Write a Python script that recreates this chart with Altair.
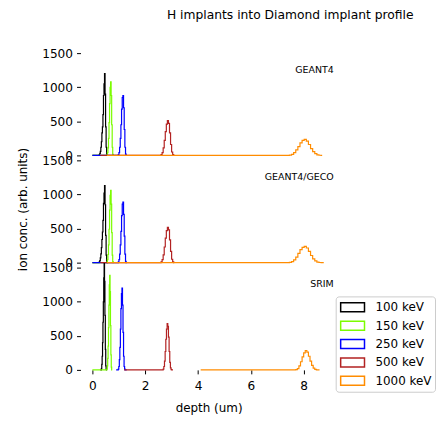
import altair as alt
import pandas as pd

energies = ["100 keV", "150 keV", "250 keV", "500 keV", "1000 keV"]
colors = ["#000000", "#7cfc00", "#0000ff", "#b22222", "#ff8c00"]
panels = ["GEANT4", "GEANT4/GECO", "SRIM"]
title_text = "H implants into Diamond implant profile"

# histogram data: first bin edge, bin width, counts, baseline extent
g4_start = [0.26, 0.55, 0.98, 2.60, 7.46]
g4_width = [0.02, 0.02, 0.025, 0.04, 0.08]
g4_100 = [10, 30, 60, 120, 200, 330, 420, 600, 880, 1050, 1200, 900, 420, 120, 15]
g4_150 = [10, 40, 110, 250, 480, 760, 1000, 1080, 880, 450, 120, 15]
g4_250 = [10, 40, 120, 250, 450, 680, 850, 880, 700, 380, 120, 20]
g4_500 = [10, 40, 110, 220, 350, 460, 510, 470, 330, 160, 50, 10]
g4_1000 = [5, 15, 40, 80, 130, 185, 220, 235, 210, 160, 100, 55, 25, 8, 2]
g4_base = [(0.0, 0.60), (0.0, 0.80), (0.0, 1.30), (0.3, 3.10), (0.55, 8.70)]

gc_start = [0.26, 0.55, 0.98, 2.60, 7.46]
gc_width = [0.02, 0.02, 0.025, 0.04, 0.08]
gc_100 = [10, 30, 70, 130, 220, 340, 450, 620, 870, 1020, 1130, 850, 400, 110, 15]
gc_150 = [10, 45, 120, 260, 490, 770, 990, 1060, 860, 440, 110, 15]
gc_250 = [10, 45, 125, 260, 460, 690, 860, 890, 710, 390, 125, 20]
gc_500 = [10, 45, 115, 230, 360, 470, 520, 480, 335, 165, 50, 10]
gc_1000 = [5, 15, 40, 82, 135, 190, 225, 240, 215, 165, 105, 55, 25, 8, 2]
gc_base = [(0.0, 0.60), (0.0, 0.80), (0.0, 1.30), (0.3, 3.10), (0.55, 8.76)]

sr_start = [0.34, 0.55, 0.98, 2.68, 7.70]
sr_width = [0.015, 0.015, 0.02, 0.025, 0.06]
sr_100 = [20, 80, 200, 400, 700, 1000, 1350, 1560, 1300, 800, 300, 60, 10]
sr_150 = [15, 60, 170, 350, 620, 950, 1250, 1390, 1150, 650, 220, 40]
sr_250 = [10, 50, 150, 330, 600, 900, 1120, 1200, 950, 550, 200, 50, 10]
sr_500 = [10, 50, 130, 270, 450, 600, 680, 640, 480, 270, 110, 30, 5]
sr_1000 = [5, 20, 60, 120, 190, 250, 285, 260, 200, 130, 65, 25, 8]
sr_base = [(0.3, 0.55), (0.0, 0.75), (0.9, 1.30), (1.2, 3.05), (4.1, 8.60)]

panel_data = {
    "GEANT4": (g4_start, g4_width, [g4_100, g4_150, g4_250, g4_500, g4_1000], g4_base),
    "GEANT4/GECO": (gc_start, gc_width, [gc_100, gc_150, gc_250, gc_500, gc_1000], gc_base),
    "SRIM": (sr_start, sr_width, [sr_100, sr_150, sr_250, sr_500, sr_1000], sr_base),
}


def series_rows(energy, start, width, counts, base):
    rows = [{"energy": energy, "x": base[0], "y": 0}]
    for i, c in enumerate(counts):
        rows.append({"energy": energy, "x": start + i * width, "y": c})
    rows.append({"energy": energy, "x": start + len(counts) * width, "y": 0})
    rows.append({"energy": energy, "x": base[1], "y": 0})
    return rows


W = 258
H = 108
FONT = "DejaVu Sans"

legend = alt.Legend(
    title=None, orient="none", legendX=257, legendY=250,
    symbolType="M-1.714,-0.643H1.714V0.643H-1.714Z", symbolSize=196,
    symbolStrokeWidth=1.5, symbolFillColor="white", symbolOpacity=1,
    labelFont=FONT, labelFontSize=12, labelColor="#000",
    labelOffset=15, symbolOffset=6, padding=3, rowPadding=2.5,
    fillColor="white", strokeColor="#cccccc", cornerRadius=3,
)

xscale = alt.Scale(domain=[-0.45, 9.25], nice=False, zero=False)
yscale = alt.Scale(domain=[0, 1575], nice=False)
cscale = alt.Scale(domain=energies, range=colors)


def make_panel(name, idx):
    start, width, counts, base = panel_data[name]
    rows = []
    for k, e in enumerate(energies):
        rows += series_rows(e, start[k], width[k], counts[k], base[k])
    df = pd.DataFrame(rows)
    if idx == 2:
        xaxis = alt.Axis(values=[0, 2, 4, 6, 8], title="depth (um)", format="d",
                         labelPadding=6, titlePadding=11)
    else:
        xaxis = None
    ytitle = "ion conc. (arb. units)" if idx == 1 else ""
    yaxis = alt.Axis(values=[0, 500, 1000, 1500], title=ytitle, format="d")
    layers = []
    for e in energies:
        layers.append(
            alt.Chart(df).transform_filter(alt.datum.energy == e)
            .mark_line(interpolate="step-after", strokeWidth=1.2)
            .encode(
                x=alt.X("x:Q", scale=xscale, axis=xaxis),
                y=alt.Y("y:Q", scale=yscale, axis=yaxis),
                color=alt.Color("energy:N", scale=cscale, legend=legend),
            )
        )
    label = alt.Chart(pd.DataFrame({"label": [name]})).mark_text(
        align="right", baseline="middle", font=FONT, fontSize=9.5, color="#000"
    ).encode(x=alt.value(255), y=alt.value(22), text="label:N")
    layers.append(label)
    if idx == 0:
        layers.append(
            alt.Chart(pd.DataFrame({"t": [title_text]})).mark_text(
                align="left", baseline="middle", font=FONT, fontSize=12.4, color="#000"
            ).encode(x=alt.value(87), y=alt.value(-33), text="t:N")
        )
    return alt.layer(*layers).properties(width=W, height=H)


chart = alt.vconcat(
    *[make_panel(n, i) for i, n in enumerate(panels)],
    spacing=0, bounds="flush",
    padding={"left": 8, "top": 0, "right": 0, "bottom": 0},
).configure_view(stroke=None).configure_axis(
    domain=False, grid=False, tickColor="#000", tickSize=4, labelFont=FONT,
    labelFontSize=12.2, labelColor="#000", labelPadding=4, titleFont=FONT,
    titleFontSize=12, titleFontWeight="normal", titleColor="#000", titlePadding=12,
)

chart.save("out.html", embed_options={"renderer": "svg", "actions": False})
